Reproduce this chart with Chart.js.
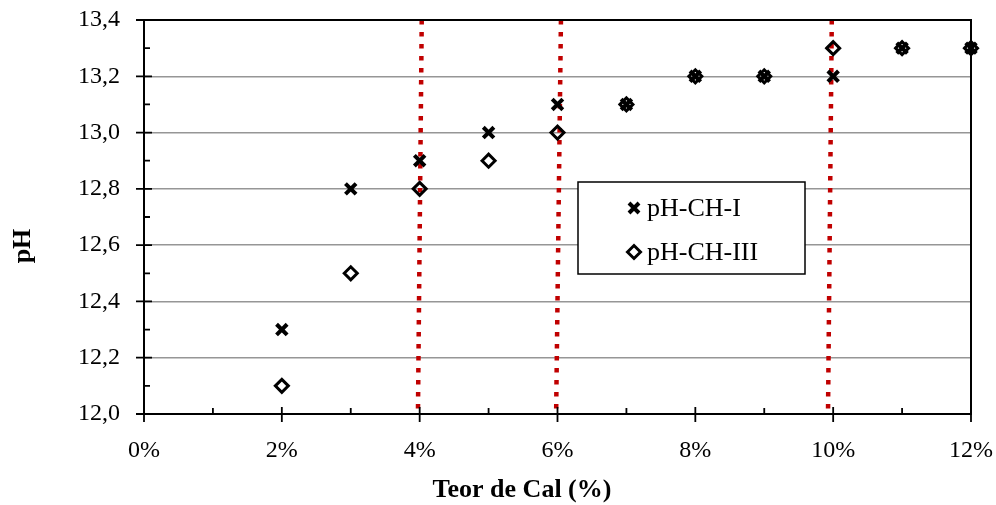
<!DOCTYPE html>
<html>
<head>
<meta charset="utf-8">
<script src="https://cdn.jsdelivr.net/npm/chart.js@4.4.1/dist/chart.umd.min.js"></script>
<style>
html, body { margin: 0; padding: 0; background: #fff; }
#wrap { width: 996px; height: 505px; }
</style>
</head>
<body>
<div id="wrap"><canvas id="ph-chart"></canvas></div>
<script>
// Teor de cal (%) and measured pH
const teorCal = [2, 3, 4, 5, 6, 7, 8, 9, 10, 11, 12];
const phCH1 = [12.3, 12.8, 12.9, 13.0, 13.1, 13.1, 13.2, 13.2, 13.2, 13.3, 13.3];
const phCH3 = [12.1, 12.5, 12.8, 12.9, 13.0, 13.1, 13.2, 13.2, 13.3, 13.3, 13.3];

// axis ticks
const xTicks = [0, 2, 4, 6, 8, 10, 12];
const xMinor = [1, 3, 5, 7, 9, 11];
const yTicks = [12.0, 12.2, 12.4, 12.6, 12.8, 13.0, 13.2, 13.4];
const yMinor = [12.1, 12.3, 12.5, 12.7, 12.9, 13.1, 13.3];

// red dotted limit lines (x at the top, x at the bottom)
const limiteTopo = [4.03, 6.05, 9.98];
const limiteBase = [3.975, 5.98, 9.925];

const serif = '"Liberation Serif", "Times New Roman", serif';
const red = '#c00000';

function toPoints(xs, ys) {
    return xs.map((x, i) => ({ x: x, y: ys[i] }));
}

let limitSets = limiteTopo.map((top, i) => ({
    label: 'limite ' + (i + 1),
    type: 'line',
    data: [{ x: top, y: 13.4 }, { x: limiteBase[i], y: 12.0 }],
    borderColor: red,
    borderWidth: 4.5,
    borderDash: [4.5, 7.5],
    borderCapStyle: 'butt',
    pointRadius: 0,
    showLine: true,
    fill: false
}));

// little marker helper for the legend box
function drawMarker(ctx, style, x, y) {
    ctx.save();
    ctx.strokeStyle = '#000';
    ctx.beginPath();
    if (style === 'crossRot') {
        let d = 5;
        ctx.lineWidth = 4;
        ctx.moveTo(x - d, y - d); ctx.lineTo(x + d, y + d);
        ctx.moveTo(x + d, y - d); ctx.lineTo(x - d, y + d);
    } else {
        let r = 6.5;
        ctx.lineWidth = 3;
        ctx.moveTo(x - r, y); ctx.lineTo(x, y - r);
        ctx.lineTo(x + r, y); ctx.lineTo(x, y + r);
        ctx.closePath();
    }
    ctx.stroke();
    ctx.restore();
}

// ticks, frame, axis titles and the legend box
const decorPlugin = {
    id: 'decor',
    afterDraw(chart) {
        const ctx = chart.ctx;
        const area = chart.chartArea;
        const xs = chart.scales.x;
        const ys = chart.scales.y;
        ctx.save();
        ctx.strokeStyle = '#000';
        ctx.lineWidth = 2;

        // frame top and right
        ctx.beginPath();
        ctx.moveTo(area.left, area.top);
        ctx.lineTo(area.right, area.top);
        ctx.lineTo(area.right, area.bottom);
        ctx.stroke();

        ctx.lineWidth = 1.8;
        ctx.beginPath();
        xTicks.forEach(v => {
            let px = xs.getPixelForValue(v);
            ctx.moveTo(px, area.bottom - 7);
            ctx.lineTo(px, area.bottom + 8);
        });
        xMinor.forEach(v => {
            let px = xs.getPixelForValue(v);
            ctx.moveTo(px, area.bottom - 6);
            ctx.lineTo(px, area.bottom);
        });
        yTicks.forEach(v => {
            let py = ys.getPixelForValue(v);
            ctx.moveTo(area.left - 8, py);
            ctx.lineTo(area.left + 8, py);
        });
        yMinor.forEach(v => {
            let py = ys.getPixelForValue(v);
            ctx.moveTo(area.left, py);
            ctx.lineTo(area.left + 6, py);
        });
        ctx.stroke();

        // axis titles
        ctx.fillStyle = '#000';
        ctx.font = 'bold 26px ' + serif;
        ctx.textAlign = 'center';
        ctx.textBaseline = 'alphabetic';
        ctx.fillText('Teor de Cal (%)', 522, 497);
        ctx.save();
        ctx.translate(30, 246);
        ctx.rotate(-Math.PI / 2);
        ctx.fillText('pH', 0, 0);
        ctx.restore();

        // legend
        let bx = area.left + 434, by = area.top + 162;
        ctx.fillStyle = '#fff';
        ctx.fillRect(bx, by, 227, 92);
        ctx.lineWidth = 1.5;
        ctx.strokeRect(bx, by, 227, 92);
        ctx.font = '26px ' + serif;
        ctx.textAlign = 'left';
        ctx.textBaseline = 'middle';
        ctx.fillStyle = '#000';
        chart.data.datasets.slice(0, 2).forEach((ds, i) => {
            let ly = by + 26 + i * 44;
            drawMarker(ctx, ds.pointStyle, bx + 56, ly);
            ctx.fillText(ds.label, bx + 69, ly + 1);
        });
        ctx.restore();
    }
};

let phChart = new Chart(document.getElementById('ph-chart').getContext('2d'), {
    type: 'scatter',
    data: {
        datasets: [{
            label: 'pH-CH-I',
            data: toPoints(teorCal, phCH1),
            pointStyle: 'crossRot',
            pointRadius: 7.5,
            pointBorderWidth: 4,
            borderColor: '#000',
            backgroundColor: '#000',
            clip: false
        }, {
            label: 'pH-CH-III',
            data: toPoints(teorCal, phCH3),
            pointStyle: 'rectRot',
            pointRadius: 6.5,
            pointBorderWidth: 3,
            borderColor: '#000',
            backgroundColor: 'rgba(0,0,0,0)',
            clip: false
        }].concat(limitSets)
    },
    options: {
        responsive: true,
        maintainAspectRatio: false,
        animation: false,
        layout: {
            padding: { top: 20, right: 25, left: 0, bottom: 0 }
        },
        scales: {
            x: {
                type: 'linear',
                min: 0,
                max: 12,
                afterBuildTicks: s => { s.ticks = xTicks.map(v => ({ value: v })); },
                afterFit: s => { s.height = 91; s.paddingLeft = 0; s.paddingRight = 0; },
                grid: { display: false, drawTicks: false },
                border: { color: '#000', width: 2 },
                ticks: {
                    padding: 22,
                    color: '#000',
                    font: { family: serif, size: 24 },
                    callback: v => v + '%'
                }
            },
            y: {
                min: 12.0,
                max: 13.4,
                afterBuildTicks: s => { s.ticks = yTicks.map(v => ({ value: v })); },
                afterFit: s => { s.width = 144; s.paddingTop = 0; s.paddingBottom = 0; },
                grid: { color: '#969696', lineWidth: 1.4, drawTicks: false },
                border: { color: '#000', width: 2 },
                ticks: {
                    padding: 24,
                    color: '#000',
                    font: { family: serif, size: 24 },
                    callback: v => v.toFixed(1).replace('.', ',')
                }
            }
        },
        plugins: {
            legend: { display: false },
            tooltip: { enabled: false }
        }
    },
    plugins: [decorPlugin]
});
</script>
</body>
</html>
